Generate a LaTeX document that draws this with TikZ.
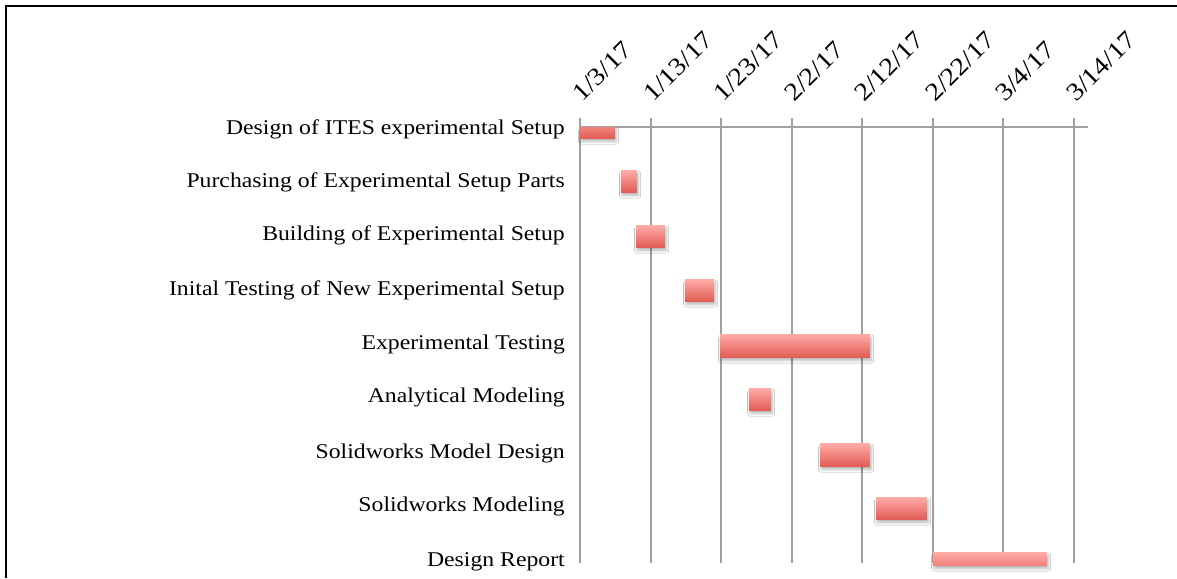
\documentclass[tikz,border=0pt]{standalone}
\usepackage{fontspec}
\setmainfont{Liberation Serif}[FakeStretch=1.13]
\usetikzlibrary{shadows.blur}
\definecolor{gridgray}{RGB}{160,160,160}
\definecolor{bartop}{RGB}{255,172,168}
\definecolor{barmid}{RGB}{241,130,124}
\definecolor{barbot}{RGB}{226,92,84}
\tikzset{
  gridline/.style={draw=gridgray, line width=2pt},
  task/.style={anchor=east, font=\fontsize{21}{25}\selectfont, inner sep=0pt},
  datelbl/.style={rotate=45, anchor=base west, font=\fontsize{25}{29}\selectfont, inner sep=0pt},
  barshadow/.style={blur shadow={shadow xshift=1pt, shadow yshift=-3.5pt, shadow blur steps=8, shadow blur radius=2.5pt, shadow opacity=28}},
  bar/.style={draw=none, inner sep=0pt, anchor=north west, top color=bartop, bottom color=barbot, barshadow},
}
\begin{document}
\begin{tikzpicture}[x=1pt,y=-1pt]
\useasboundingbox (0,0) rectangle (1177,578);
\fill[white] (0,0) rectangle (1177,578);
% frame
\draw[line width=2pt] (6,578) -- (6,6) -- (1177,6);

% vertical grid lines with ticks above the axis
\foreach \gx in {580,651,721,792,862,933,1003,1074}
  \draw[gridline] (\gx,118) -- (\gx,563);
% time axis
\draw[gridline] (579,127) -- (1088,127);

% date labels
\node[datelbl] (d1) at (582,103) {1/3/17};
\node[datelbl] (d2) at (653,103) {1/13/17};
\node[datelbl] (d3) at (723,103) {1/23/17};
\node[datelbl] (d4) at (794,103) {2/2/17};
\node[datelbl] (d5) at (864,103) {2/12/17};
\node[datelbl] (d6) at (935,103) {2/22/17};
\node[datelbl] (d7) at (1005,103) {3/4/17};
\node[datelbl] (d8) at (1076,103) {3/14/17};

% task names
\node[task] (t1) at (565,129) {Design of ITES experimental Setup};
\node[task] (t2) at (565,182) {Purchasing of Experimental Setup Parts};
\node[task] (t3) at (565,235) {Building of Experimental Setup};
\node[task] (t4) at (565,290) {Inital Testing of New Experimental Setup};
\node[task] (t5) at (565,344) {Experimental Testing};
\node[task] (t6) at (565,397) {Analytical Modeling};
\node[task] (t7) at (565,453) {Solidworks Model Design};
\node[task] (t8) at (565,506) {Solidworks Modeling};
\node[task] (t9) at (565,562) {Design Report};

% task bars
\node[bar, top color=barmid, minimum width=35pt, minimum height=11pt] (b1) at (580,127) {};
\node[bar, minimum width=16pt, minimum height=22pt] (b2) at (621,170) {};
\node[bar, minimum width=29pt, minimum height=22pt] (b3) at (636,225) {};
\node[bar, minimum width=29pt, minimum height=22pt] (b4) at (685,279) {};
\node[bar, minimum width=150pt, minimum height=23pt] (b5) at (720,334) {};
\node[bar, minimum width=22pt, minimum height=22pt] (b6) at (749,388) {};
\node[bar, minimum width=50pt, minimum height=23pt] (b7) at (820,443) {};
\node[bar, minimum width=51pt, minimum height=22pt] (b8) at (876,497) {};
\node[bar, bottom color=barmid, minimum width=114pt, minimum height=13pt] (b9) at (933,552) {};
\end{tikzpicture}
\end{document}
